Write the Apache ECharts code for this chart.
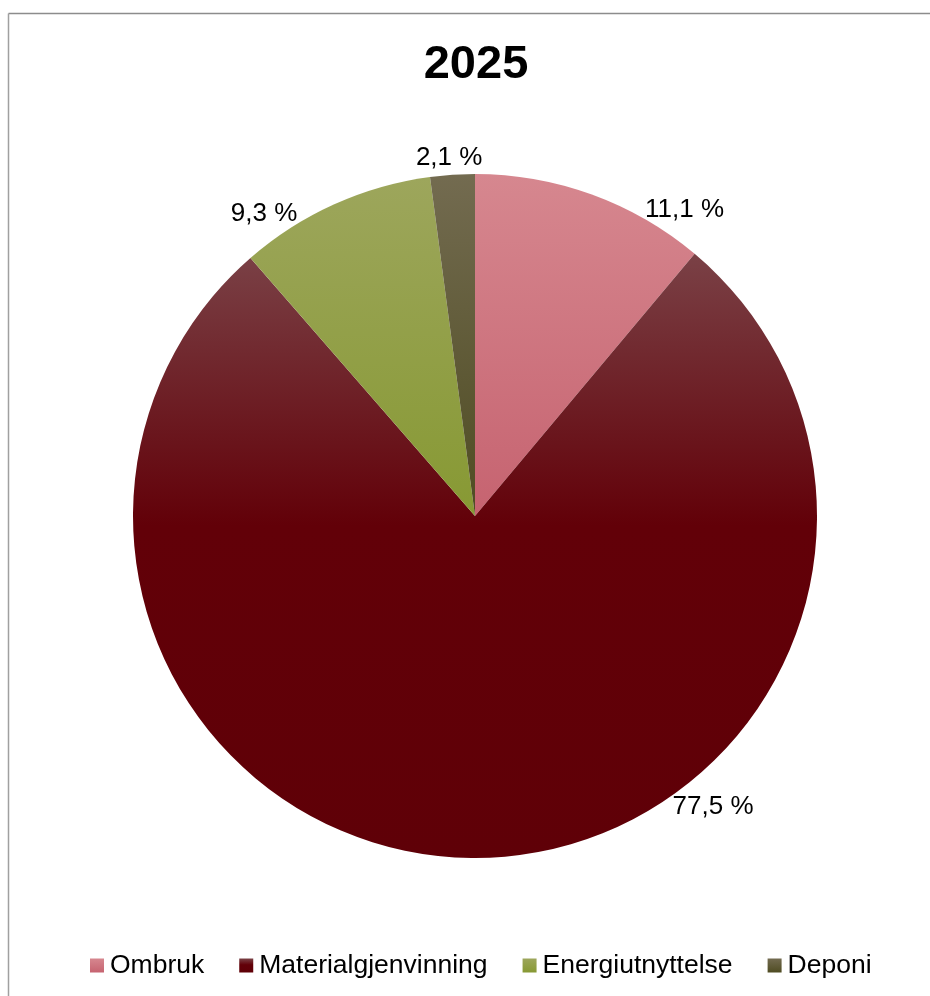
<!DOCTYPE html>
<html>
<head>
<meta charset="utf-8">
<script src="https://cdn.jsdelivr.net/npm/echarts@6/dist/echarts.min.js"></script>
<style>
  html, body { margin: 0; padding: 0; background: #fff; }
  #chart { width: 930px; height: 996px; }
</style>
</head>
<body>
<div id="chart"></div>
<script>
// ---- data ----
const titleText = '2025';
const categories = ['Ombruk', 'Materialgjenvinning', 'Energiutnyttelse', 'Deponi'];
const values = [11.1, 77.5, 9.3, 2.1];

// ---- styling / layout (not data) ----
const gradientStops = [
  [[0, '#d6878f'], [1, '#c66370']],
  [[0, '#7a4146'], [0.45, '#620008'], [1, '#5f0007']],
  [[0, '#9da65c'], [1, '#879933']],
  [[0, '#736b50'], [1, '#4f4c22']]
];
// angle (deg, clockwise from top) on the rim where each label's nearest corner sits
const labelAnchorAngles = [30, 144.5, 328.7, 356];

const FONT = '"Liberation Sans", Arial, sans-serif';
const CX = 475, CY = 516, R = 342;

function grad(stops) {
  return new echarts.graphic.LinearGradient(0, 0, 0, 1,
    stops.map(s => ({ offset: s[0], color: s[1] })));
}

const seriesData = categories.map((name, i) => ({
  name: name,
  value: values[i],
  itemStyle: { color: grad(gradientStops[i]) }
}));

function fmt(v) {
  return v.toFixed(1).replace('.', ',') + ' %';
}

const chart = echarts.init(document.getElementById('chart'), null, { renderer: 'canvas' });

chart.setOption({
  backgroundColor: '#ffffff',
  animation: false,
  title: {
    text: titleText,
    left: 471,
    top: 37,
    textAlign: 'center',
    textStyle: { fontFamily: FONT, fontSize: 47, fontWeight: 'bold', color: '#000' }
  },
  legend: {
    bottom: 12,
    left: 85,
    itemWidth: 14,
    itemHeight: 14,
    itemGap: 35,
    icon: 'rect',
    textStyle: { fontFamily: FONT, fontSize: 26.5, color: '#000', padding: [0, 0, 0, 1] },
    data: categories
  },
  graphic: [
    { type: 'line', shape: { x1: 8.5, y1: 13.5, x2: 930, y2: 13.5 }, style: { stroke: '#8c8c8c', lineWidth: 1.5 }, silent: true },
    { type: 'line', shape: { x1: 8.5, y1: 13.5, x2: 8.5, y2: 996 }, style: { stroke: '#a0a0a0', lineWidth: 1.5 }, silent: true }
  ],
  series: [{
    type: 'pie',
    center: [CX, CY],
    radius: R,
    startAngle: 90,
    clockwise: true,
    avoidLabelOverlap: false,
    itemStyle: { borderWidth: 0 },
    emphasis: { disabled: true },
    label: {
      show: true,
      position: 'outside',
      fontFamily: FONT,
      fontSize: 26,
      color: '#000',
      formatter: p => fmt(p.value)
    },
    labelLine: { show: false },
    labelLayout: function (params) {
      const i = params.dataIndex;
      const a = labelAnchorAngles[i] * Math.PI / 180;
      const s = Math.sin(a), c = Math.cos(a);
      const px = CX + R * s, py = CY - R * c;
      const w = params.labelRect.width;
      let x = px, y = py;
      if (s > 0.15) x = px + w / 2 - 1;
      else if (s < -0.15) x = px - w / 2;
      else { x = px - 2; }
      if (Math.abs(s) <= 0.15) y = py - 17;
      else y = py - (c > 0 ? 10 : -12);
      return { x: x, y: y, align: 'center', verticalAlign: 'middle' };
    },
    data: seriesData
  }]
});
</script>
</body>
</html>
